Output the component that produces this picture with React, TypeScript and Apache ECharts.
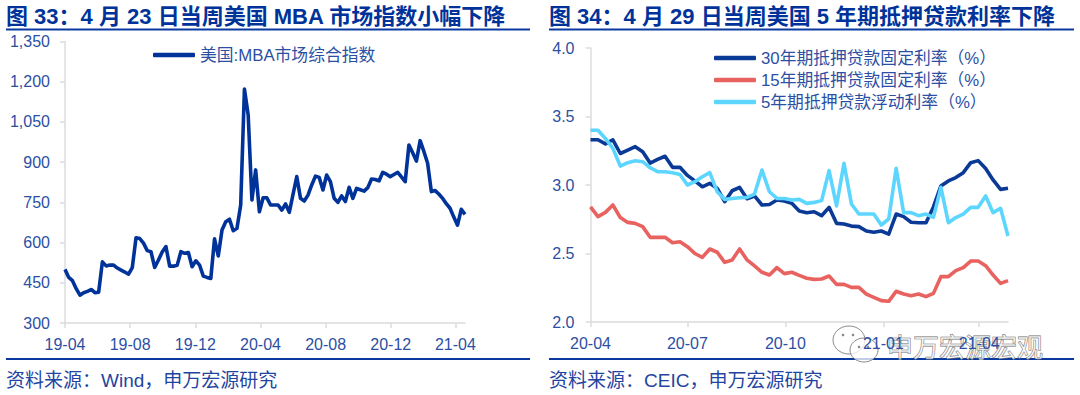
import React, { useEffect, useRef } from "react";
import * as echarts from "echarts";

const FONT = '"Liberation Sans", "Noto Sans CJK SC", sans-serif';
const BLUE = "#003399";
const LABEL = "#2c4fa3";
const AXIS = "#dcdcdc";

const titleLeft = "图 33：4 月 23 日当周美国 MBA 市场指数小幅下降";
const titleRight = "图 34：4 月 29 日当周美国 5 年期抵押贷款利率下降";
const sourceLeft = "资料来源：Wind，申万宏源研究";
const sourceRight = "资料来源：CEIC，申万宏源研究";
const watermark = "申万宏源宏观";

const mbaName = "美国:MBA市场综合指数";
const mbaValues = [
  500, 470, 458, 428, 404, 413, 418, 425, 413, 415, 528, 513, 516, 516, 505, 497, 490, 482, 507, 618,
  615, 598, 570, 566, 507, 535, 565, 585, 512, 512, 515, 566, 560, 563, 510, 532, 516, 475, 470, 466,
  614, 550, 647, 678, 687, 644, 653, 740, 1173, 1076, 759, 871, 715, 767, 767, 740, 740, 740, 721, 744,
  713, 780, 846, 765, 755, 777, 815, 848, 843, 796, 852, 827, 765, 750, 774, 753, 806, 765, 802, 797,
  792, 805, 837, 835, 830, 862, 855, 846, 854, 862, 845, 827, 964, 935, 904, 980, 940, 896, 790, 794,
  781, 765, 745, 728, 695, 665, 724, 705,
];

const rate30Name = "30年期抵押贷款固定利率（%）";
const rate30 = [
  3.33, 3.33, 3.3, 3.33, 3.23, 3.255, 3.28, 3.243, 3.16, 3.187, 3.21, 3.129, 3.129, 3.07, 3.03, 2.987, 3.012, 2.975, 2.878,
  2.958, 2.982, 2.9, 2.92, 2.854, 2.858, 2.89, 2.883, 2.866, 2.81, 2.798, 2.805, 2.776, 2.837, 2.72, 2.715, 2.7, 2.696,
  2.664, 2.655, 2.664, 2.642, 2.788, 2.769, 2.728, 2.725, 2.725, 2.84, 2.993, 3.03, 3.054, 3.09, 3.163, 3.178, 3.12, 3.037,
  2.968, 2.976,
];
const rate15Name = "15年期抵押贷款固定利率（%）";
const rate15 = [
  2.84, 2.769, 2.8, 2.854, 2.762, 2.727, 2.72, 2.696, 2.618, 2.618, 2.618, 2.579, 2.586, 2.55, 2.5, 2.472, 2.533, 2.509, 2.435,
  2.453, 2.533, 2.453, 2.409, 2.363, 2.343, 2.397, 2.353, 2.363, 2.34, 2.319, 2.311, 2.314, 2.336, 2.275, 2.275, 2.253, 2.253,
  2.204, 2.18, 2.156, 2.151, 2.224, 2.204, 2.192, 2.204, 2.185, 2.209, 2.331, 2.331, 2.375, 2.397, 2.445, 2.445, 2.411, 2.343,
  2.282, 2.302,
];
const rate5Name = "5年期抵押贷款浮动利率（%）";
const rate5 = [
  3.4, 3.4, 3.34, 3.267, 3.138, 3.163, 3.177, 3.17, 3.126, 3.097, 3.097, 3.09, 3.077, 3.0, 3.024, 3.06, 3.09, 2.95, 2.895,
  2.902, 2.907, 2.91, 2.934, 3.109, 2.951, 2.902, 2.902, 2.89, 2.895, 2.866, 2.873, 2.886, 3.105, 2.847, 3.158, 2.861, 2.788,
  2.788, 2.788, 2.708, 2.752, 3.122, 2.798, 2.798, 2.776, 2.788, 2.764, 2.983, 2.725, 2.762, 2.788, 2.837, 2.837, 2.92, 2.798,
  2.83, 2.628,
];

const DAY = 86400000;
const weekly = (start: Date, values: number[]) =>
  values.map((v, i) => [start.getTime() + i * 7 * DAY, v]);

const mbaStart = new Date(2019, 3, 5, 12);
const rateStart = new Date(2020, 3, 2, 12);
const mbaTicks = [
  new Date(2019, 3, 5, 12), new Date(2019, 7, 5, 12), new Date(2019, 11, 5, 12), new Date(2020, 3, 5, 12),
  new Date(2020, 7, 5, 12), new Date(2020, 11, 5, 12), new Date(2021, 3, 5, 12),
].map((d) => d.getTime());
const rateTicks = [
  new Date(2020, 3, 2, 12), new Date(2020, 6, 2, 12), new Date(2020, 9, 2, 12), new Date(2021, 0, 2, 12),
  new Date(2021, 3, 2, 12),
].map((d) => d.getTime());

const fmtMonth = (v: number) => {
  const d = new Date(v);
  return `${String(d.getFullYear()).slice(2)}-${String(d.getMonth() + 1).padStart(2, "0")}`;
};

const xAxisFor = (gridIndex: number, ticks: number[], max: number) => ({
  type: "value",
  gridIndex,
  min: ticks[0],
  max,
  splitLine: { show: false },
  axisLine: { show: true, lineStyle: { color: AXIS, width: 1.5 } },
  axisTick: { show: true, length: 5, customValues: ticks, lineStyle: { color: AXIS, width: 1.5 } },
  axisLabel: {
    customValues: ticks,
    formatter: (v: number) => fmtMonth(v),
    color: LABEL,
    fontSize: 16,
    fontFamily: FONT,
    margin: 13,
    hideOverlap: false,
    showMinLabel: true,
  },
});

const yAxisFor = (
  gridIndex: number,
  min: number,
  max: number,
  interval: number,
  margin: number,
  fmt: (v: number) => string,
) => ({
  type: "value",
  gridIndex,
  min,
  max,
  interval,
  splitLine: { show: false },
  axisLine: { show: true, lineStyle: { color: AXIS, width: 1.5 } },
  axisTick: { show: true, length: 5, lineStyle: { color: AXIS, width: 1.5 } },
  axisLabel: { formatter: fmt, color: LABEL, fontSize: 16, fontFamily: FONT, margin },
});

const lineSeries = (name: string, data: number[][], color: string, axis: number) => ({
  type: "line",
  name,
  data,
  xAxisIndex: axis,
  yAxisIndex: axis,
  color,
  showSymbol: false,
  symbol: "none",
  smooth: false,
  lineStyle: { color, width: 3.6, join: "round" },
  itemStyle: { color },
});

const rule = (x1: number, x2: number, y: number) => ({
  type: "line",
  silent: true,
  shape: { x1, y1: y, x2, y2: y },
  style: { stroke: "#0a3aa0", lineWidth: 2 },
});
const heading = (x: number, text: string) => ({
  type: "text",
  x,
  y: 5,
  style: { text, fill: BLUE, fontFamily: FONT, fontSize: 22, fontWeight: "bold" },
});
const source = (x: number, text: string) => ({
  type: "text",
  x,
  y: 371,
  style: { text, fill: "#1f45a0", fontFamily: FONT, fontSize: 19 },
});
const bubble = (cx: number, cy: number, rx: number, ry: number) => ({
  type: "ellipse",
  silent: true,
  shape: { cx, cy, rx, ry },
  style: { fill: "rgba(255,255,255,0.75)", stroke: "#8a8a8a", lineWidth: 1 },
});
const dot = (cx: number, cy: number) => ({
  type: "circle",
  silent: true,
  shape: { cx, cy, r: 1.3 },
  style: { fill: "#8a8a8a" },
});

export default function App() {
  const ref = useRef<HTMLDivElement>(null);
  useEffect(() => {
    const chart = echarts.init(ref.current!, undefined, { renderer: "svg" });
    chart.setOption({
      animation: false,
      backgroundColor: "#ffffff",
      grid: [
        { left: 65, right: 615, top: 41.5, bottom: 72 },
        { left: 590.5, right: 72, top: 48, bottom: 73 },
      ],
      xAxis: [
        xAxisFor(0, mbaTicks, mbaStart.getTime() + (mbaValues.length - 1) * 7 * DAY),
        xAxisFor(1, rateTicks, rateStart.getTime() + (rate30.length - 1) * 7 * DAY),
      ],
      yAxis: [
        yAxisFor(0, 300, 1350, 150, 15, (v) => v.toLocaleString("en-US")),
        yAxisFor(1, 2, 4, 0.5, 16, (v) => v.toFixed(1)),
      ],
      legend: [
        {
          data: [mbaName],
          left: 153,
          top: 46.5,
          padding: 0,
          icon: "roundRect",
          itemWidth: 42,
          itemHeight: 4.5,
          textStyle: { color: LABEL, fontSize: 16.8, fontFamily: FONT, lineHeight: 17 },
        },
        {
          data: [rate30Name, rate15Name, rate5Name],
          orient: "vertical",
          left: 714,
          top: 49.5,
          padding: 0,
          icon: "roundRect",
          itemWidth: 42,
          itemHeight: 4.5,
          itemGap: 5,
          align: "left",
          textStyle: { color: LABEL, fontSize: 16.8, fontFamily: FONT, lineHeight: 17 },
        },
      ],
      series: [
        lineSeries(mbaName, weekly(mbaStart, mbaValues), "#003399", 0),
        lineSeries(rate30Name, weekly(rateStart, rate30), "#0a3a96", 1),
        lineSeries(rate15Name, weekly(rateStart, rate15), "#e8625f", 1),
        lineSeries(rate5Name, weekly(rateStart, rate5), "#5cd6ff", 1),
      ],
      graphic: [
        heading(6, titleLeft),
        heading(549, titleRight),
        rule(6, 530, 29.5),
        rule(549, 1074, 29.5),
        rule(6, 530, 359),
        rule(549, 1074, 359),
        source(6, sourceLeft),
        source(549, sourceRight),
        bubble(849, 340, 16, 14),
        dot(843, 335),
        dot(853, 335),
        bubble(864, 350, 14, 12),
        dot(859, 347),
        dot(868, 347),
        {
          type: "text",
          x: 887,
          y: 335,
          silent: true,
          style: {
            text: watermark,
            fill: "rgba(255,255,255,0.6)",
            stroke: "#6e6e6e",
            lineWidth: 0.8,
            fontFamily: FONT,
            fontSize: 26,
          },
        },
      ],
    });
    return () => chart.dispose();
  }, []);
  return <div ref={ref} style={{ position: "absolute", left: 0, top: 0, width: 1080, height: 395 }} />;
}
